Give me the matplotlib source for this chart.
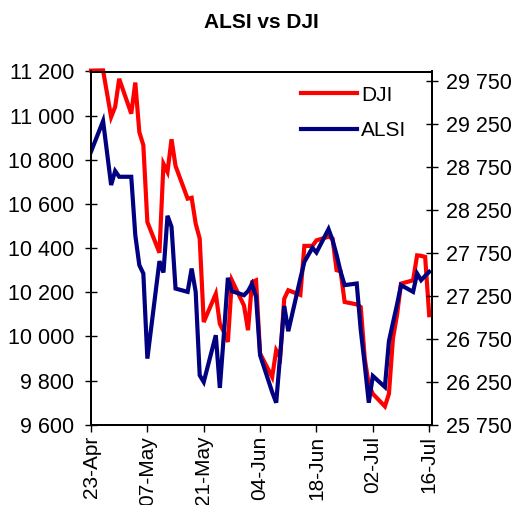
import matplotlib
matplotlib.use("Agg")
import matplotlib.pyplot as plt
import matplotlib.dates as mdates
import matplotlib.ticker as mticker
import pandas as pd

# trading days (JSE calendar)
dates = [
    "2010-04-23", "2010-04-26", "2010-04-28", "2010-04-29", "2010-04-30",
    "2010-05-03", "2010-05-04", "2010-05-05", "2010-05-06", "2010-05-07",
    "2010-05-10", "2010-05-11", "2010-05-12", "2010-05-13", "2010-05-14",
    "2010-05-17", "2010-05-18", "2010-05-19", "2010-05-20", "2010-05-21",
    "2010-05-24", "2010-05-25", "2010-05-26", "2010-05-27", "2010-05-28",
    "2010-05-31", "2010-06-01", "2010-06-02", "2010-06-03", "2010-06-04",
    "2010-06-07", "2010-06-08", "2010-06-09", "2010-06-10", "2010-06-11",
    "2010-06-14", "2010-06-15", "2010-06-17", "2010-06-18",
    "2010-06-21", "2010-06-22", "2010-06-23", "2010-06-24", "2010-06-25",
    "2010-06-28", "2010-06-29", "2010-06-30", "2010-07-01", "2010-07-02",
    "2010-07-05", "2010-07-06", "2010-07-07", "2010-07-08", "2010-07-09",
    "2010-07-12", "2010-07-13", "2010-07-14", "2010-07-15", "2010-07-16",
]

dji = [
    11204, 11205, 10994, 11040, 11167,
    11009, 11150, 10926, 10866, 10518,
    10379, 10782, 10745, 10893, 10772,
    10624, 10628, 10511, 10443, 10065,
    10193, 10057, 10020, 9975, 10254,
    10140, 10028, 10246, 10254, 9922,
    9816, 9937, 9905, 10171, 10209,
    10188, 10410, 10410, 10435,
    10452, 10443, 10300, 10295, 10156,
    10145, 10133, 9899, 9780, 9740,
    9683, 9740, 9990, 10096, 10239,
    10254, 10367, 10365, 10360, 10096,
]

alsi = [
    28927, 29284, 28539, 28702, 28635,
    28635, 27956, 27607, 27509, 26519,
    27653, 27521, 28181, 28053, 27334,
    27296, 27567, 27296, 26325, 26247,
    26791, 26178, 26800, 27459, 27304,
    27257, 27304, 27390, 27237, 26558,
    26130, 26006, 26570, 27132, 26838,
    27451, 27645, 27808, 27754,
    28026, 27898, 27727, 27529, 27374,
    27393, 26853, 26446, 26006, 26317,
    26189, 26722, 26935, 27145, 27374,
    27296, 27509, 27432, 27482, 27529,
]

left_ticks = [9600, 9800, 10000, 10200, 10400, 10600, 10800, 11000, 11200]
right_ticks = [25750, 26250, 26750, 27250, 27750, 28250, 28750, 29250, 29750]

x = pd.to_datetime(dates)

plt.rcParams["font.family"] = ["Liberation Sans", "DejaVu Sans"]


def space_thousands(v, pos):
    return f"{int(round(v)):,}".replace(",", " ")


fig = plt.figure(figsize=(5.11, 5.05), dpi=100)
ax = fig.add_axes([91 / 511, 1 - 424.7 / 505, (431.7 - 91) / 511, (424.7 - 71.5) / 505])
ax2 = ax.twinx()

ax.plot(x, dji, color="#FF0000", lw=3.0, solid_joinstyle="miter", label="DJI",
        clip_on=False)
ax2.plot(x, alsi, color="#000080", lw=3.0, solid_joinstyle="miter", label="ALSI")

ax.set_ylim(9600, 11200)
ax2.set_ylim(25750, 29860)
ax.set_yticks(left_ticks)
ax2.set_yticks(right_ticks)
ax.yaxis.set_major_formatter(mticker.FuncFormatter(space_thousands))
ax2.yaxis.set_major_formatter(mticker.FuncFormatter(space_thousands))

start = pd.Timestamp("2010-04-23")
end = pd.Timestamp("2010-07-16")
ax.set_xlim(start, end + pd.Timedelta(hours=15))
ax.set_xticks(pd.date_range(start, end, freq="14D"))
ax.xaxis.set_major_formatter(mdates.DateFormatter("%d-%b"))

for a in (ax, ax2):
    for s in a.spines.values():
        s.set_linewidth(1.4)
        s.set_color("black")

ax.tick_params(axis="y", direction="inout", length=8, width=1, labelsize=15.5, pad=8)
ax2.tick_params(axis="y", direction="inout", length=8, width=1, labelsize=15.5, pad=6)
ax.tick_params(axis="x", direction="out", length=5, width=1, labelsize=15, pad=3)
plt.setp(ax.get_xticklabels(), rotation=90)

ax.set_title("ALSI vs DJI", fontsize=15, fontweight="bold", pad=31)

h1, l1 = ax.get_legend_handles_labels()
h2, l2 = ax2.get_legend_handles_labels()
ax2.legend(h1 + h2, l1 + l2, loc="upper left", bbox_to_anchor=(0.615, 0.96),
           frameon=False, fontsize=15, handlelength=2.7, handletextpad=0.2,
           labelspacing=0.8, borderpad=0, borderaxespad=0)

fig.savefig("out.png", dpi=100)
